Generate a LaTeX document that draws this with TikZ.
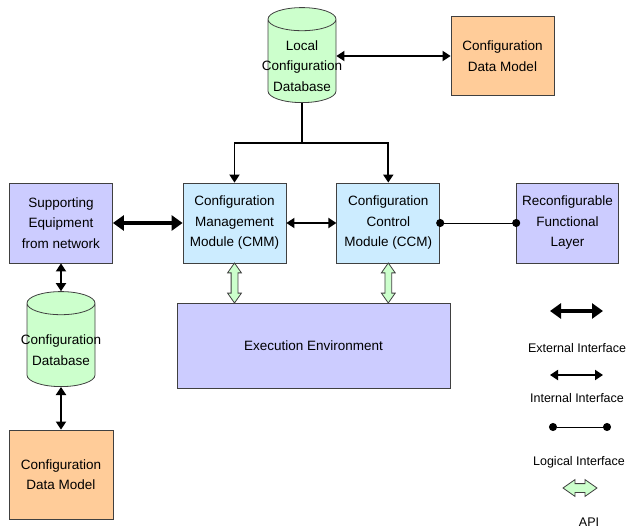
\documentclass[tikz,border=0pt]{standalone}
\usepackage{fontspec}
\setmainfont{Liberation Sans}
\usetikzlibrary{shapes,shapes.geometric,shapes.arrows,arrows.meta,positioning,calc}
\definecolor{boxpurple}{RGB}{204,204,255}
\definecolor{boxblue}{RGB}{204,236,255}
\definecolor{dbgreen}{RGB}{204,255,204}
\definecolor{modelorange}{RGB}{255,204,153}

\begin{document}
\begin{tikzpicture}[x=1pt, y=-1pt, font=\fontsize{13.5}{20.5}\selectfont]
        \tikzstyle{block} = [rectangle, draw=black!75, line width=0.8pt, align=center, minimum width=103pt, minimum height=80pt, inner sep=0pt]
        \tikzstyle{database} = [cylinder, shape border rotate=90, draw=black!75, line width=0.8pt, fill=dbgreen, aspect=0.35, minimum width=68pt, minimum height=95pt, inner xsep=33pt, inner ysep=0pt, anchor=south]
        \tikzstyle{dblabel} = [align=center]
        \tikzstyle{line} = [draw, line width=1.8pt]
        \tikzstyle{external} = [draw, line width=3.5pt, {Triangle[length=11pt,width=15pt]}-{Triangle[length=11pt,width=15pt]}]
        \tikzstyle{internal} = [draw, line width=1.8pt, {Triangle[length=8pt,width=10pt]}-{Triangle[length=8pt,width=10pt]}]
        \tikzstyle{logical} = [draw, line width=1pt, {Circle[length=8pt]}-{Circle[length=8pt]}, shorten <=-4pt, shorten >=-4pt]
        \tikzstyle{api} = [double arrow, draw=black!75, fill=dbgreen, line width=0.8pt, minimum height=40pt, inner xsep=0pt, inner ysep=3pt, double arrow head extend=3.5pt, double arrow tip angle=70]
        \tikzstyle{legendtext} = [font=\fontsize{12.5}{15}\selectfont]

        \useasboundingbox (0,0) rectangle (627,530);

        \node [database] (local_db) at (302,103) {};
        \node [dblabel] (local_db_text) at (302,66) {Local\\Configuration\\Database};
        \node [block, fill=modelorange, minimum height=79pt] (top_model) at (502.5,56) {Configuration\\Data Model};

        \node [block, fill=boxpurple] (supporting_equipment) at (61,223) {Supporting\\Equipment\\from network};
        \node [block, fill=boxblue] (cmm) at (234.5,223) {Configuration\\Management\\Module (CMM)};
        \node [block, fill=boxblue, right=50pt of cmm] (ccm) {Configuration\\Control\\Module (CCM)};
        \node [block, fill=boxpurple, minimum width=102pt, right=76pt of ccm] (reconfig_layer) {Reconfigurable\\Functional\\Layer};
        \node [block, fill=boxpurple, minimum width=273pt, minimum height=85pt] (exec_env) at (313.5,345.5) {Execution Environment};

        \node [database] (config_db) at (61,387) {};
        \node [dblabel] (config_db_text) at (61,350) {Configuration\\Database};
        \node [block, fill=modelorange, minimum width=104pt, minimum height=89pt] (bottom_model) at (61,474.5) {Configuration\\Data Model};

        \coordinate [below=40pt of local_db.south] (db_split);
        \path [line] (local_db.south) -- (db_split);
        \path [internal] (cmm.north) |- (db_split) -| (ccm.north);
        \path [internal] (local_db.east |- top_model.west) -- (top_model.west);
        \path [external] (supporting_equipment) -- (cmm);
        \path [internal] (cmm) -- (ccm);
        \path [logical] (ccm) -- (reconfig_layer);
        \path [internal] (supporting_equipment.south) -- (config_db.north);
        \path [internal] (config_db.south) -- (bottom_model.north);

        \node [api, rotate=90] (cmm_api) at ($(cmm.south)!0.5!(cmm.south |- exec_env.north)$) {};
        \node [api, rotate=90] (ccm_api) at ($(ccm.south)!0.5!(ccm.south |- exec_env.north)$) {};

        \coordinate (ext_a) at (550,311);
        \coordinate (ext_b) at (603,311);
        \path [external] (ext_a) -- (ext_b);
        \node [legendtext] (ext_text) at (577,348) {External Interface};
        \coordinate (int_a) at (550,375);
        \coordinate (int_b) at (603,375);
        \path [internal] (int_a) -- (int_b);
        \node [legendtext] (int_text) at (577,398) {Internal Interface};
        \coordinate (log_a) at (553,427);
        \coordinate (log_b) at (607,427);
        \path [logical] (log_a) -- (log_b);
        \node [legendtext] (log_text) at (579,462) {Logical Interface};
        \node [api, minimum height=34pt, inner ysep=4pt, double arrow head extend=4pt] (api_key) at (580,488) {};
        \node [legendtext] (api_text) at (589,522) {API};
    \end{tikzpicture}
\end{document}
